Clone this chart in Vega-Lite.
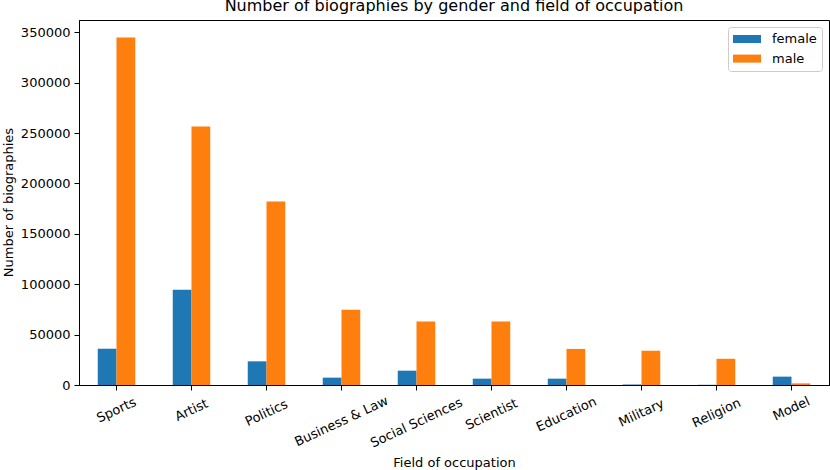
{
  "$schema": "https://vega.github.io/schema/vega-lite/v6.json",
  "autosize": {"type": "none"},
  "padding": {"left": 79, "top": 20, "right": 1, "bottom": 85},
  "width": 750,
  "height": 365,
  "title": {
    "text": "Number of biographies by gender and field of occupation",
    "font": "DejaVu Sans",
    "fontSize": 16,
    "fontWeight": "normal",
    "color": "black",
    "anchor": "middle",
    "frame": "group",
    "baseline": "alphabetic",
    "offset": 8,
    "dy": 15
  },
  "data": {
    "values": [
      {"field": "Sports", "gender": "female", "count": 36000},
      {"field": "Sports", "gender": "male", "count": 345000},
      {"field": "Artist", "gender": "female", "count": 94500},
      {"field": "Artist", "gender": "male", "count": 256500},
      {"field": "Politics", "gender": "female", "count": 23500},
      {"field": "Politics", "gender": "male", "count": 182000},
      {"field": "Business & Law", "gender": "female", "count": 7300},
      {"field": "Business & Law", "gender": "male", "count": 74800},
      {"field": "Social Sciences", "gender": "female", "count": 14200},
      {"field": "Social Sciences", "gender": "male", "count": 62900},
      {"field": "Scientist", "gender": "female", "count": 6300},
      {"field": "Scientist", "gender": "male", "count": 62900},
      {"field": "Education", "gender": "female", "count": 6300},
      {"field": "Education", "gender": "male", "count": 35800},
      {"field": "Military", "gender": "female", "count": 500},
      {"field": "Military", "gender": "male", "count": 34000},
      {"field": "Religion", "gender": "female", "count": 200},
      {"field": "Religion", "gender": "male", "count": 26000},
      {"field": "Model", "gender": "female", "count": 8300},
      {"field": "Model", "gender": "male", "count": 1600}
    ]
  },
  "mark": {"type": "bar"},
  "encoding": {
    "x": {
      "field": "field",
      "type": "nominal",
      "sort": null,
      "scale": {"paddingInner": 0.5, "paddingOuter": 0.25},
      "axis": {
        "title": "Field of occupation",
        "titleY": 81,
        "titleBaseline": "alphabetic",
        "titleFont": "DejaVu Sans",
        "titleFontSize": 13,
        "titleFontWeight": "normal",
        "titleColor": "black",
        "labelAngle": -25,
        "labelAlign": "center",
        "labelBaseline": "middle",
        "labelPadding": 0,
        "labelFont": "DejaVu Sans",
        "labelFontSize": 13,
        "labelColor": "black",
        "labelOverlap": false,
        "tickSize": 5,
        "tickColor": "black",
        "domainColor": "black",
        "encoding": {
          "labels": {
            "dx": {"value": {"expr": "-0.423*(11.3+1.41*length(datum.label))"}},
            "dy": {"value": {"expr": "0.906*(11.3+1.41*length(datum.label))"}}
          }
        }
      }
    },
    "xOffset": {"field": "gender", "type": "nominal", "scale": {"paddingInner": 0, "paddingOuter": 0}},
    "y": {
      "field": "count",
      "type": "quantitative",
      "scale": {"domain": [0, 362250], "nice": false, "zero": true},
      "axis": {
        "title": "Number of biographies",
        "titleX": -67,
        "titleY": 182,
        "titleAngle": -90,
        "titleAlign": "center",
        "titleBaseline": "alphabetic",
        "titleFont": "DejaVu Sans",
        "titleFontSize": 13,
        "titleFontWeight": "normal",
        "titleColor": "black",
        "values": [0, 50000, 100000, 150000, 200000, 250000, 300000, 350000],
        "format": "d",
        "grid": false,
        "labelFont": "DejaVu Sans",
        "labelFontSize": 13,
        "labelColor": "black",
        "labelPadding": 4,
        "tickSize": 5,
        "tickColor": "black",
        "domainColor": "black"
      }
    },
    "color": {
      "field": "gender",
      "type": "nominal",
      "scale": {"domain": ["female", "male"], "range": ["#1f77b4", "#ff7f0e"]},
      "legend": {
        "title": null,
        "orient": "none",
        "legendX": 649,
        "legendY": 7,
        "symbolType": "M-2,-0.571L2,-0.571L2,0.571L-2,0.571Z",
        "symbolSize": 196,
        "symbolStrokeWidth": 0,
        "symbolOffset": 7,
        "labelFont": "DejaVu Sans",
        "labelFontSize": 13,
        "labelColor": "black",
        "labelOffset": 18,
        "padding": 5,
        "rowPadding": 5.6,
        "fillColor": "white",
        "strokeColor": "#cccccc",
        "cornerRadius": 3
      }
    }
  },
  "config": {
    "view": {"stroke": "black", "strokeWidth": 1},
    "axis": {"domainWidth": 1, "tickWidth": 1}
  }
}
